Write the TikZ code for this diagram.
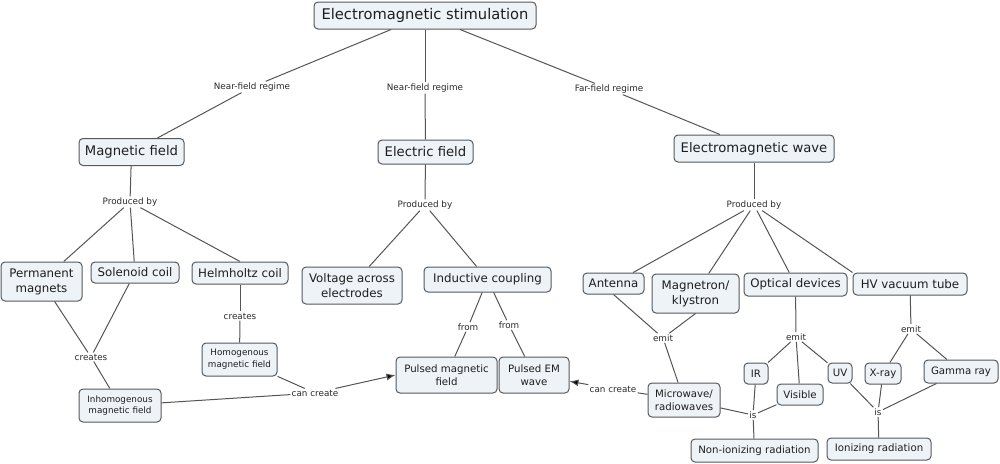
\documentclass[tikz,border=0pt]{standalone}
\usepackage{fontspec}
\setmainfont{DejaVu Sans}
\usetikzlibrary{arrows.meta}
\definecolor{boxfill}{HTML}{EEF3F7}
\definecolor{boxline}{HTML}{55595C}
\definecolor{linecol}{HTML}{555555}
\definecolor{txt}{HTML}{1E1E1E}
\definecolor{lbltxt}{HTML}{2A2A2A}
\begin{document}
\begin{tikzpicture}[x=1pt,y=-1pt,
 box/.style={draw=boxline, fill=boxfill, rounded corners=4pt, line width=1pt, align=center, inner sep=0pt, text=txt},
 toplvl/.style={box, font=\fontsize{14.7}{17}\selectfont},
 lvtwo/.style={box, font=\fontsize{13.2}{16}\selectfont},
 lvthree/.style={box, font=\fontsize{11.8}{15}\selectfont},
 leaf/.style={box, font=\fontsize{10.2}{13}\selectfont},
 small/.style={box, font=\fontsize{8.8}{11.7}\selectfont},
 lbl/.style={fill=white, inner sep=1.2pt, text=lbltxt, font=\fontsize{8.8}{10}\selectfont},
 con/.style={draw=linecol, line width=1pt},
 arr/.style={con, -{Latex[length=9pt,width=7pt,fill=black]}},
]
\useasboundingbox (0,0) rectangle (1000,463);

% boxes
\node[toplvl, minimum width=222pt, minimum height=27pt] (ems) at (425,15.5) {Electromagnetic stimulation};
\node[lvtwo, minimum width=105pt, minimum height=27pt] (mag) at (131.5,152) {Magnetic field};
\node[lvtwo, minimum width=95pt, minimum height=24pt] (ele) at (425.5,152) {Electric field};
\node[lvtwo, minimum width=160pt, minimum height=27pt] (emw) at (754,148.5) {Electromagnetic wave};

\node[lvthree, minimum width=81pt, minimum height=39pt] (pm) at (41.5,281.5) {Permanent\\magnets};
\node[lvthree, minimum width=88pt, minimum height=21pt] (sol) at (135,272.5) {Solenoid coil};
\node[lvthree, minimum width=96pt, minimum height=22pt] (hel) at (240,273) {Helmholtz coil};
\node[lvthree, minimum width=100pt, minimum height=37pt] (vol) at (352,285.5) {Voltage across\\electrodes};
\node[lvthree, minimum width=127pt, minimum height=25pt] (ind) at (487.5,279.5) {Inductive coupling};

\node[small, minimum width=75pt, minimum height=33pt] (hom) at (239.5,359.5) {Homogenous\\magnetic field};
\node[small, minimum width=82pt, minimum height=33pt] (inh) at (120,405.5) {Inhomogenous\\magnetic field};
\node[leaf, minimum width=101pt, minimum height=36pt] (pmf) at (446.5,375) {Pulsed magnetic\\field};
\node[leaf, minimum width=70pt, minimum height=36pt] (pem) at (534,375) {Pulsed EM\\wave};

\node[lvthree, minimum width=61pt, minimum height=21pt] (ant) at (613.5,283.5) {Antenna};
\node[lvthree, minimum width=87pt, minimum height=39pt] (mgn) at (695.5,293.5) {Magnetron/\\klystron};
\node[lvthree, minimum width=103pt, minimum height=23pt] (opt) at (795.5,284.5) {Optical devices};
\node[lvthree, minimum width=114pt, minimum height=22pt] (hv) at (910,284) {HV vacuum tube};

\node[leaf, minimum width=72pt, minimum height=34pt] (mw) at (684,400) {Microwave/\\radiowaves};
\node[leaf, minimum width=24pt, minimum height=21pt] (ir) at (756,373.5) {IR};
\node[leaf, minimum width=46pt, minimum height=21pt] (vis) at (800,394.5) {Visible};
\node[leaf, minimum width=24pt, minimum height=20pt] (uv) at (840,373) {UV};
\node[leaf, minimum width=36pt, minimum height=21pt] (xr) at (883,373.5) {X-ray};
\node[leaf, minimum width=74pt, minimum height=23pt] (gam) at (961,371.5) {Gamma ray};
\node[leaf, minimum width=127pt, minimum height=23pt] (non) at (754.5,450.5) {Non-ionizing radiation};
\node[leaf, minimum width=104pt, minimum height=22pt] (ion) at (879,449) {Ionizing radiation};

% labels
\node[lbl] (l1) at (252,87) {Near-field regime};
\node[lbl] (l2) at (425,88) {Near-field regime};
\node[lbl] (l3) at (609,89) {Far-field regime};
\node[lbl] (p1) at (130,202) {Produced by};
\node[lbl] (p2) at (425,205) {Produced by};
\node[lbl] (p3) at (754,205) {Produced by};
\node[lbl] (c1) at (91,357) {creates};
\node[lbl] (c2) at (240,316) {creates};
\node[lbl] (cc1) at (315,393) {can create};
\node[lbl] (f1) at (468,327) {from};
\node[lbl] (f2) at (509,325) {from};
\node[lbl] (e1) at (663,338) {emit};
\node[lbl] (cc2) at (613,389) {can create};
\node[lbl] (e2) at (796,337) {emit};
\node[lbl] (e3) at (911,329) {emit};
\node[lbl] (i1) at (753,415) {is};
\node[lbl] (i2) at (878,412) {is};

% connectors
\draw[con] (ems) -- (l1); \draw[con] (l1) -- (mag);
\draw[con] (ems.south) -- (l2); \draw[con] (l2) -- (ele);
\draw[con] (ems) -- (l3); \draw[con] (l3) -- (emw);

\draw[con] (mag) -- (p1);
\draw[con] (p1) -- (pm);
\draw[con] (p1) -- (sol);
\draw[con] (p1) -- (hel.north);

\draw[con] (ele) -- (p2);
\draw[con] (p2) -- (vol);
\draw[con] (p2) -- (ind);

\draw[con] (emw) -- (p3);
\draw[con] (p3) -- (ant);
\draw[con] (p3) -- (mgn);
\draw[con] (p3) -- (opt);
\draw[con] (p3) -- (hv.north west);

\draw[con] (pm) -- (c1);
\draw[con] (sol) -- (c1);
\draw[con] (c1) -- (inh);
\draw[con] (hel) -- (c2);
\draw[con] (c2) -- (hom);

\draw[con] (inh) -- (cc1);
\draw[con] (hom) -- (cc1);
\draw[arr] (cc1) -- (pmf.west);

\draw[con] (ind) -- (f1); \draw[con] (f1) -- (pmf);
\draw[con] (ind) -- (f2); \draw[con] (f2) -- (pem);

\draw[con] (ant.south) -- (e1);
\draw[con] (mgn.south) -- (e1);
\draw[con] (e1) -- (mw);
\draw[con] (mw) -- (cc2);
\draw[arr] (cc2) -- (pem);

\draw[con] (opt) -- (e2);
\draw[con] (e2) -- (ir);
\draw[con] (e2) -- (vis);
\draw[con] (e2) -- (uv);

\draw[con] (hv) -- (e3);
\draw[con] (e3) -- (xr);
\draw[con] (e3) -- (gam);

\draw[con] (mw) -- (i1);
\draw[con] (vis) -- (i1);
\draw[con] (ir) -- (i1);
\draw[con] (i1) -- (non);

\draw[con] (uv) -- (i2);
\draw[con] (xr) -- (i2);
\draw[con] (gam) -- (i2);
\draw[con] (i2) -- (ion);
\end{tikzpicture}
\end{document}
